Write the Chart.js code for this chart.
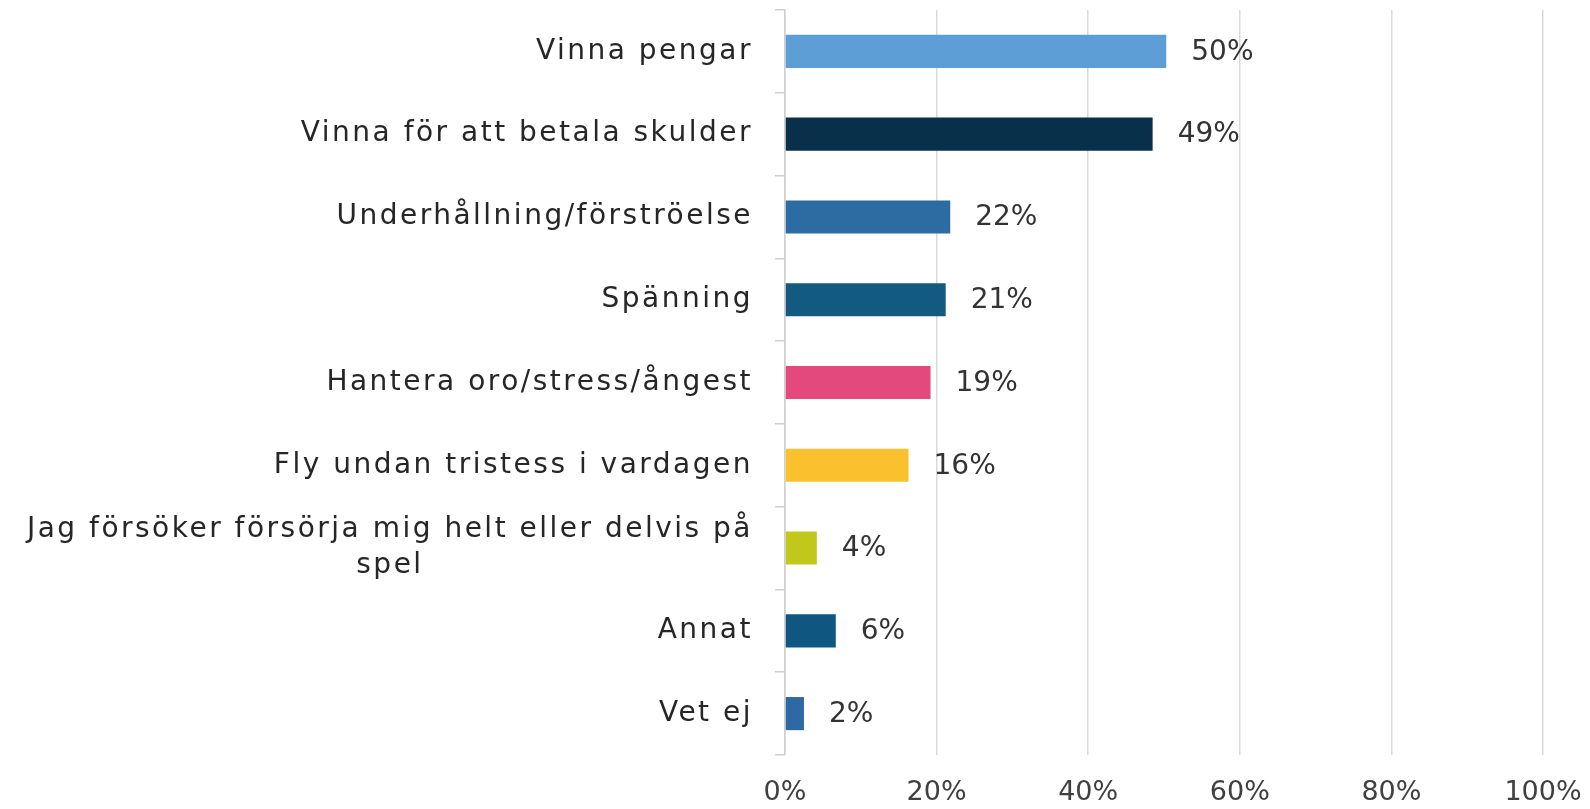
<!DOCTYPE html>
<html>
<head>
<meta charset="utf-8">
<script src="https://cdn.jsdelivr.net/npm/chart.js@4.4.1/dist/chart.umd.min.js"></script>
<style>
    body { margin: 0; background: #ffffff; }
    #wrap { width: 1590px; height: 809px; position: relative; }
</style>
</head>
<body>
<div id="wrap"><canvas id="reasons"></canvas></div>
<script>
// Data
const categories = [
    ["Vinna pengar"],
    ["Vinna för att betala skulder"],
    ["Underhållning/förströelse"],
    ["Spänning"],
    ["Hantera oro/stress/ångest"],
    ["Fly undan tristess i vardagen"],
    ["Jag försöker försörja mig helt eller delvis på", "spel"],
    ["Annat"],
    ["Vet ej"]
];
const shares = [50.3, 48.5, 21.8, 21.2, 19.2, 16.3, 4.2, 6.7, 2.5];
const shareLabels = ["50%", "49%", "22%", "21%", "19%", "16%", "4%", "6%", "2%"];
const barColors = ["#5e9ed6", "#08304a", "#2c6ca3", "#135a80", "#e4497e", "#f9c12e", "#c2c81b", "#0f5680", "#2d69a5"];
const xTicks = [0, 20, 40, 60, 80, 100];

const FONT = "'DejaVu Sans', sans-serif";

// Plugins
const valueLabels = {
    id: "valueLabels",
    afterDatasetsDraw(chart) {
        const ctx = chart.ctx;
        const meta = chart.getDatasetMeta(0);
        ctx.save();
        ctx.font = "28px " + FONT;
        ctx.fillStyle = "#333333";
        ctx.textAlign = "left";
        ctx.textBaseline = "middle";
        meta.data.forEach((bar, i) => {
            ctx.fillText(shareLabels[i], bar.x + 25, bar.y + 1);
        });
        ctx.restore();
    }
};

const categoryLabels = {
    id: "categoryLabels",
    afterDraw(chart) {
        const ctx = chart.ctx;
        const yScale = chart.scales.y;
        const right = chart.chartArea.left - 32;
        const lineHeight = 36;
        ctx.save();
        ctx.font = "28px " + FONT;
        ctx.letterSpacing = "2.5px";
        ctx.fillStyle = "#262626";
        ctx.textBaseline = "middle";
        categories.forEach((lines, i) => {
            const y = yScale.getPixelForValue(i);
            const widest = Math.max(...lines.map(l => ctx.measureText(l).width));
            const top = y - (lines.length - 1) * lineHeight / 2;
            lines.forEach((line, j) => {
                if (lines.length > 1) {
                    ctx.textAlign = "center";
                    ctx.fillText(line, right - widest / 2, top + j * lineHeight);
                } else {
                    ctx.textAlign = "right";
                    ctx.fillText(line, right, top + j * lineHeight);
                }
            });
        });
        ctx.restore();
    }
};

// Chart
new Chart(document.querySelector("#reasons"), {
    type: "bar",
    data: {
        labels: categories.map(c => c.join(" ")),
        datasets: [{
            data: shares,
            backgroundColor: barColors,
            borderWidth: 0,
            barPercentage: 0.8,
            categoryPercentage: 0.5
        }]
    },
    options: {
        indexAxis: "y",
        responsive: true,
        maintainAspectRatio: false,
        animation: false,
        layout: {
            padding: {top: 10, right: 47, left: 0, bottom: 0}
        },
        plugins: {
            legend: {display: false},
            tooltip: {enabled: false}
        },
        scales: {
            x: {
                min: 0,
                max: 100,
                afterBuildTicks: (scale) => {
                    scale.ticks = xTicks.map(v => ({value: v}));
                },
                afterFit: (scale) => {
                    scale.height = 54;
                    scale.paddingLeft = 0;
                    scale.paddingRight = 0;
                },
                grid: {
                    color: "#d9d9d9",
                    lineWidth: 1.5,
                    drawTicks: false
                },
                border: {display: false},
                ticks: {
                    padding: 22,
                    color: "#404040",
                    font: {family: FONT, size: 27},
                    callback: (v) => v + "%"
                }
            },
            y: {
                afterFit: (scale) => {
                    scale.width = 785;
                },
                grid: {
                    drawOnChartArea: false,
                    offset: true,
                    tickLength: 10,
                    color: "#cfcfcf",
                    lineWidth: 1.5
                },
                border: {display: true, color: "#cfcfcf", width: 1.5},
                ticks: {display: false}
            }
        }
    },
    plugins: [valueLabels, categoryLabels]
});
</script>
</body>
</html>
